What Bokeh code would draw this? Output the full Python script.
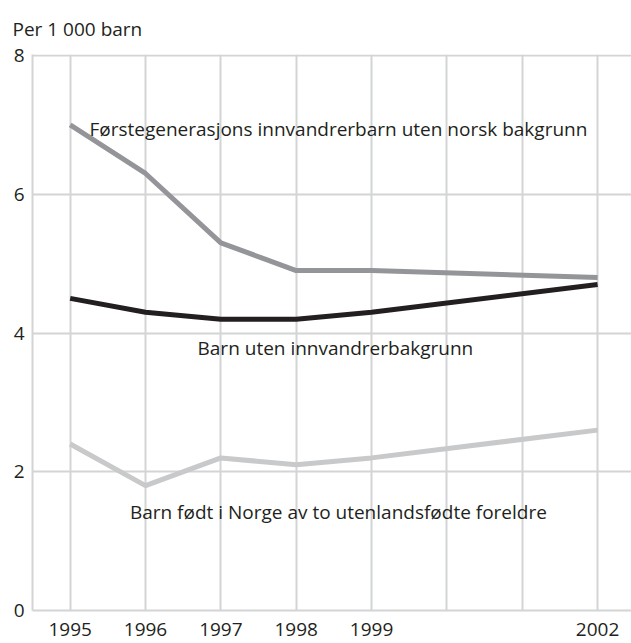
from bokeh.plotting import figure
from bokeh.models import FixedTicker, Range1d, Label
from bokeh.embed import file_html
from bokeh.resources import INLINE

years = [1995, 1996, 1997, 1998, 1999, 2002]
forste = [7.0, 6.3, 5.3, 4.9, 4.9, 4.8]
uten = [4.5, 4.3, 4.2, 4.2, 4.3, 4.7]
fodt = [2.4, 1.8, 2.2, 2.1, 2.2, 2.6]

x_ticks = [1995, 1996, 1997, 1998, 1999, 2002]
grid_years = [1995, 1996, 1997, 1998, 1999, 2000, 2001, 2002]
y_ticks = [0, 2, 4, 6, 8]

names = ["Førstegenerasjons innvandrerbarn uten norsk bakgrunn",
         "Barn uten innvandrerbakgrunn",
         "Barn født i Norge av to utenlandsfødte foreldre"]
label_x = [1998.56, 1998.52, 1998.56]
label_y = [6.94, 3.78, 1.425]

FONT = "Open Sans"
TXT = "#231f20"
GRID = "#d3d4d5"

p = figure(width=631, height=643, output_backend="svg", toolbar_location=None,
           x_range=Range1d(1994.5, 2002.45), y_range=Range1d(0, 8.015),
           min_border_left=32, min_border_right=0, min_border_top=53, min_border_bottom=33)
p.outline_line_color = None
p.background_fill_color = "white"

p.title.text = "Per 1 000 barn"
p.title.align = "left"
p.title.offset = -20
p.title.text_font = FONT
p.title.text_font_size = "19px"
p.title.text_font_style = "normal"
p.title.text_color = TXT
p.title.standoff = 26

p.xaxis.ticker = FixedTicker(ticks=x_ticks)
p.yaxis.ticker = FixedTicker(ticks=y_ticks)
p.xgrid.ticker = FixedTicker(ticks=grid_years)
p.ygrid.ticker = FixedTicker(ticks=y_ticks)
for ax in (p.xaxis, p.yaxis):
    ax.axis_line_color = GRID
    ax.axis_line_width = 2
    ax.major_tick_line_color = None
    ax.minor_tick_line_color = None
    ax.major_tick_out = 0
    ax.major_tick_in = 0
    ax.major_label_text_font = FONT
    ax.major_label_text_font_size = "19px"
    ax.major_label_text_color = TXT
p.yaxis.major_label_standoff = 8
p.xaxis.major_label_standoff = 12
p.grid.grid_line_color = GRID
p.grid.grid_line_width = 2

p.line(years, forste, line_color="#939598", line_width=5)
p.line(years, uten, line_color="#231f20", line_width=5)
p.line(years, fodt, line_color="#c8c9cb", line_width=5)

for t, lx, ly in zip(names, label_x, label_y):
    p.add_layout(Label(x=lx, y=ly, text=t, text_align="center", text_baseline="alphabetic",
                       text_font=FONT, text_font_size="19px", text_color=TXT))

open("out.html", "w").write(file_html(p, INLINE))
